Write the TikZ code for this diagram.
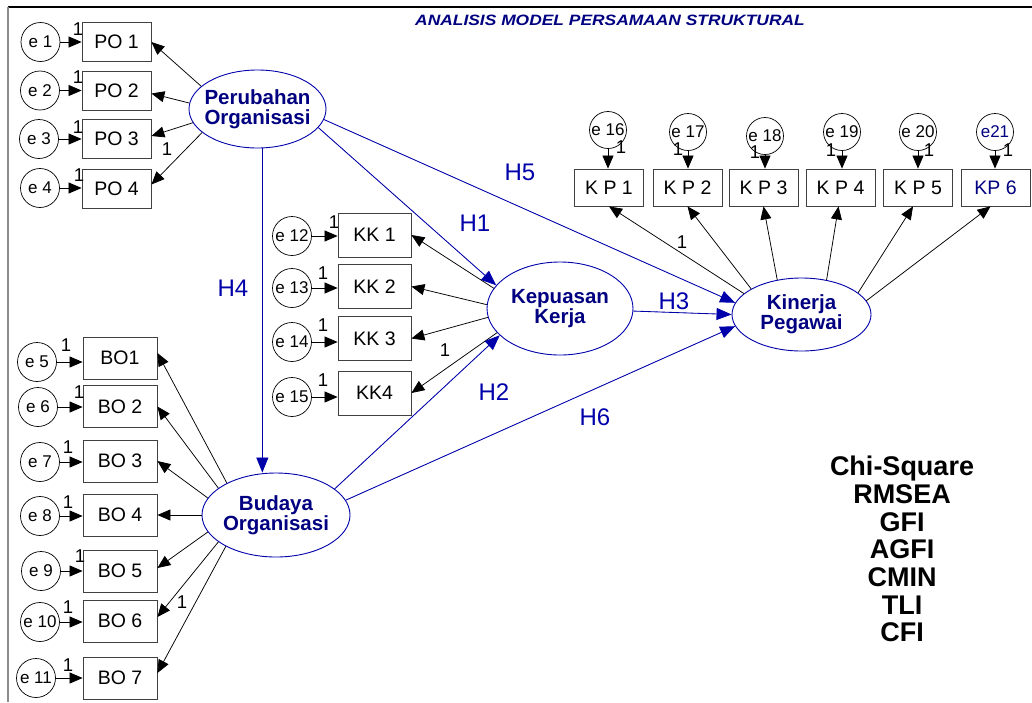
\documentclass[tikz,border=0pt]{standalone}
\usepackage{fontspec}
\setmainfont{Liberation Sans}
\usetikzlibrary{arrows.meta,shapes.geometric}

\definecolor{pathblue}{RGB}{0,0,170}
\definecolor{latentblue}{RGB}{0,0,128}

\begin{document}
\begin{tikzpicture}[
  x=1pt, y=-1pt,
  indicator/.style={draw=black!75, line width=0.8pt, minimum width=69pt, minimum height=39pt,
    inner sep=0pt, font=\fontsize{19.5}{20}\selectfont},
  errterm/.style={circle, draw, line width=0.7pt, minimum size=39pt, inner sep=0pt,
    font=\fontsize{17}{17}\selectfont},
  toperr/.style={errterm, minimum size=37pt},
  latent/.style={ellipse, draw=pathblue, line width=0.9pt, inner sep=0pt},
  latenttext/.style={align=center, inner sep=0pt, text=latentblue,
    font=\bfseries\fontsize{20.5}{20}\selectfont},
  loading/.style={-{Triangle[length=13pt,width=11pt]}, line width=0.75pt},
  structarrow/.style={-{Triangle[length=15pt,width=12pt]}, draw=pathblue, fill=pathblue, line width=0.85pt},
  weight/.style={inner sep=0pt, font=\fontsize{18.5}{18}\selectfont},
  hyp/.style={inner sep=0pt, text=pathblue, font=\fontsize{24}{24}\selectfont},
  titletext/.style={inner sep=0pt, text=latentblue, font=\bfseries\itshape\fontsize{15}{15}\selectfont},
  fittext/.style={align=center, inner sep=0pt, font=\bfseries\fontsize{27}{27.7}\selectfont}
]
\useasboundingbox (0,0) rectangle (1032,702);

% page frame
\draw[line width=1.2pt] (8,7) -- (1032,7);
\draw[line width=1.2pt, black!45] (8,7) -- (8,702);

% heading
\node[titletext] (title) at (610,20) {\scalebox{1.16}[1]{ANALISIS MODEL PERSAMAAN STRUKTURAL}};

% latent variables
\node[latent, minimum width=137pt, minimum height=78pt] (po) at (257.5,109) {};
\node[latenttext] (po-t) at (po.center) {Perubahan\\Organisasi};
\node[latent, minimum width=148pt, minimum height=84pt] (bo) at (276,515) {};
\node[latenttext] (bo-t) at (bo.center) {Budaya\\Organisasi};
\node[latent, minimum width=146pt, minimum height=93pt] (kep) at (560,308.5) {};
\node[latenttext] (kep-t) at (kep.center) {Kepuasan\\Kerja};
\node[latent, minimum width=139pt, minimum height=73pt] (kin) at (801.5,314.5) {};
\node[latenttext] (kin-t) at (kin.center) {Kinerja\\Pegawai};

% indicators of Perubahan Organisasi
\node[indicator] (po1) at (116.5,42)  {PO 1};
\node[indicator] (po2) at (116.5,90.5) {PO 2};
\node[indicator] (po3) at (116.5,139) {PO 3};
\node[indicator] (po4) at (116.5,188.5) {PO 4};
\node[errterm] (e1) at (40.5,42)  {e 1};
\node[errterm] (e2) at (40,90.5)  {e 2};
\node[errterm] (e3) at (39,139)   {e 3};
\node[errterm] (e4) at (40,188)   {e 4};

% indicators of Budaya Organisasi
\node[indicator, minimum width=74pt, minimum height=42pt] (bo1) at (120,358)   {BO1};
\node[indicator, minimum width=74pt, minimum height=42pt] (bo2) at (120,406.5) {BO 2};
\node[indicator, minimum width=74pt, minimum height=42pt] (bo3) at (120,461)   {BO 3};
\node[indicator, minimum width=74pt, minimum height=42pt] (bo4) at (120,515)   {BO 4};
\node[indicator, minimum width=74pt, minimum height=42pt] (bo5) at (120,571)   {BO 5};
\node[indicator, minimum width=74pt, minimum height=42pt] (bo6) at (120,621)   {BO 6};
\node[indicator, minimum width=74pt, minimum height=42pt] (bo7) at (120,678)   {BO 7};
\node[errterm] (e5)  at (37,362)  {e 5};
\node[errterm] (e6)  at (38,407)  {e 6};
\node[errterm] (e7)  at (40,462)  {e 7};
\node[errterm] (e8)  at (40,516)  {e 8};
\node[errterm] (e9)  at (41,571)  {e 9};
\node[errterm] (e10) at (40,622)  {e 10};
\node[errterm] (e11) at (36,678)  {e 11};

% indicators of Kepuasan Kerja
\node[indicator, minimum width=73pt, minimum height=44pt] (kk1) at (374.5,235)   {KK 1};
\node[indicator, minimum width=73pt, minimum height=44pt] (kk2) at (374.5,286.5) {KK 2};
\node[indicator, minimum width=73pt, minimum height=44pt] (kk3) at (374.5,338.5) {KK 3};
\node[indicator, minimum width=73pt, minimum height=44pt] (kk4) at (374.5,393)   {KK4};
\node[errterm] (e12) at (292,236) {e 12};
\node[errterm] (e13) at (292,288) {e 13};
\node[errterm] (e14) at (292,342) {e 14};
\node[errterm] (e15) at (292,397) {e 15};

% indicators of Kinerja Pegawai
\node[indicator, minimum height=37pt] (kp1) at (609,187.5)   {K P 1};
\node[indicator, minimum height=37pt] (kp2) at (687.5,187.5) {K P 2};
\node[indicator, minimum height=37pt] (kp3) at (763.5,187.5) {K P 3};
\node[indicator, minimum height=37pt] (kp4) at (840.5,187.5) {K P 4};
\node[indicator, minimum height=37pt] (kp5) at (918,187.5)   {K P 5};
\node[indicator, minimum height=37pt, text=latentblue] (kp6) at (995.5,187.5) {KP 6};
\node[toperr] (e16) at (608,130)   {e 16};
\node[toperr] (e17) at (688,132)   {e 17};
\node[toperr] (e18) at (765,136)   {e 18};
\node[toperr] (e19) at (842,132)   {e 19};
\node[toperr] (e20) at (918,132)   {e 20};
\node[toperr, text=latentblue] (e21) at (995,132) {e21};

% error terms into indicators
\foreach \e/\v in {e1/po1,e2/po2,e3/po3,e4/po4,e5/bo1,e6/bo2,e7/bo3,e8/bo4,e9/bo5,e10/bo6,e11/bo7,e12/kk1,e13/kk2,e14/kk3,e15/kk4}
  \draw[loading] (\e) -- (\e -| \v.west);
\foreach \e/\v in {e16/kp1,e17/kp2,e18/kp3,e19/kp4,e20/kp5,e21/kp6}
  \draw[loading] (\e) -- (\e |- \v.north);

% factor loadings
\draw[loading] (po.158) -- (po1.east);
\draw[loading] (po.175) -- ([yshift=-3pt]po2.east);
\draw[loading] (po.192) -- ([yshift=3pt]po3.east);
\draw[loading] (po.203) -- ([yshift=4pt]po4.east);

\draw[loading] (bo.147) -- ([yshift=5pt]bo1.east);
\draw[loading] (bo.155) -- (bo2.east);
\draw[loading] (bo.166) -- (bo3.east);
\draw[loading] (bo.180) -- (bo4.east);
\draw[loading] (bo.194) -- ([yshift=3pt]bo5.east);
\draw[loading] (bo.205) -- ([yshift=4pt]bo6.east);
\draw[loading] (bo.212) -- ([yshift=5pt]bo7.east);

\draw[loading] (kep.163) -- (kk1.east);
\draw[loading] (kep.177) -- (kk2.east);
\draw[loading] (kep.187) -- (kk3.east);
\draw[loading] (kep.201) -- (kk4.east);

\draw[loading] (kin.160) -- (kp1.south);
\draw[loading] (kin.153) -- (kp2.south);
\draw[loading] (kin.125) -- (kp3.south);
\draw[loading] (kin.54)  -- ([xshift=-2pt]kp4.south);
\draw[loading] (kin.21)  -- ([xshift=-5pt]kp5.south);
\draw[loading] (kin.12)  -- ([xshift=-5pt]kp6.south);

% structural paths
\draw[structarrow] (po.-83) -- (po.-83 |- bo.north);
\draw[structarrow] (po.-17) -- (kep.160);
\draw[structarrow] (po.-9)  -- (kin.170);
\draw[structarrow] (bo.24)  -- (kep.204);
\draw[structarrow] (bo.12)  -- (kin.190);
\draw[structarrow] (kep.-2) -- (kin.180);

% fixed regression weights
\node[weight] (w1)  at (78,29)   {1};
\node[weight] (w2)  at (78,77)   {1};
\node[weight] (w3)  at (78,127)  {1};
\node[weight] (w4)  at (79,175)  {1};
\node[weight] (w5)  at (66,345)  {1};
\node[weight] (w6)  at (79,392)  {1};
\node[weight] (w7)  at (68,447)  {1};
\node[weight] (w8)  at (68,502)  {1};
\node[weight] (w9)  at (80,556)  {1};
\node[weight] (w10) at (68,607)  {1};
\node[weight] (w11) at (68,665)  {1};
\node[weight] (w12) at (334,222) {1};
\node[weight] (w13) at (323,273) {1};
\node[weight] (w14) at (323,325) {1};
\node[weight] (w15) at (323,380) {1};
\node[weight] (w16) at (621,147) {1};
\node[weight] (w17) at (678,149) {1};
\node[weight] (w18) at (755,152) {1};
\node[weight] (w19) at (831,150) {1};
\node[weight] (w20) at (929,150) {1};
\node[weight] (w21) at (1008,150) {1};
\node[weight] (wpo) at (167,149) {1};
\node[weight] (wbo) at (182,602) {1};
\node[weight] (wkk) at (445,350) {1};
\node[weight] (wkp) at (682,242) {1};

% hypothesis labels
\node[hyp] (h1) at (475,223) {H1};
\node[hyp] (h2) at (494,392) {H2};
\node[hyp] (h3) at (674,301) {H3};
\node[hyp] (h4) at (233,288) {H4};
\node[hyp] (h5) at (520,172) {H5};
\node[hyp] (h6) at (595,417) {H6};

% goodness-of-fit indices
\node[fittext, anchor=north] (fit) at (902,456)
  {Chi-Square\\RMSEA\\GFI\\AGFI\\CMIN\\TLI\\CFI};
\end{tikzpicture}
\end{document}
